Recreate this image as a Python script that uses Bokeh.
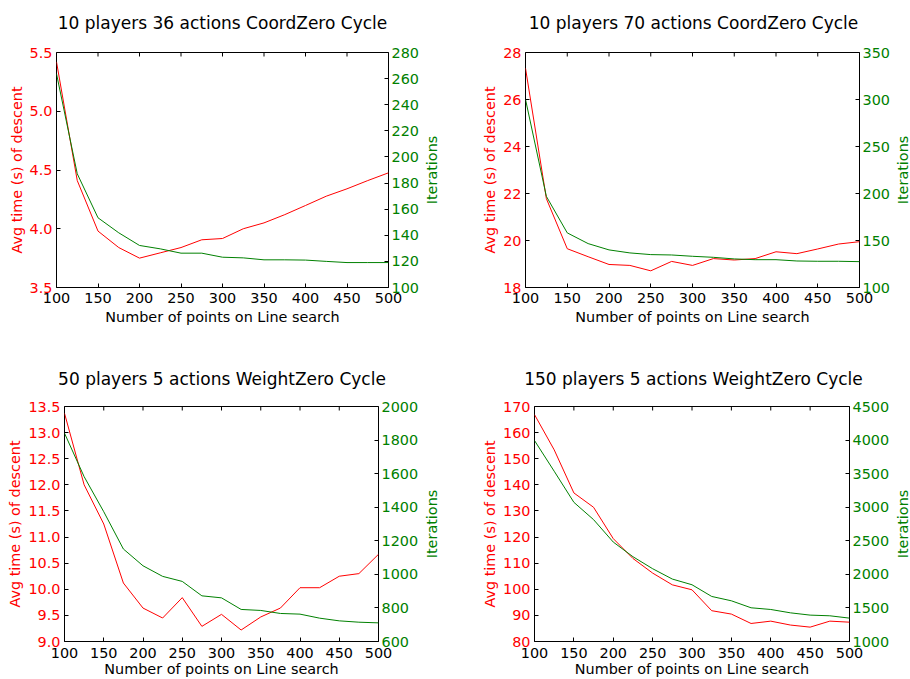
import math

from bokeh.plotting import figure
from bokeh.models import (Range1d, LinearAxis, FixedTicker, PrintfTickFormatter,
                          Title)
from bokeh.layouts import row, column
from bokeh.embed import file_html
from bokeh.resources import INLINE

# Number of points used by the line search (shared x values)
line_points = [100, 125, 150, 175, 200, 225, 250, 275, 300,
               325, 350, 375, 400, 425, 450, 475, 500]
x_ticks = [100, 150, 200, 250, 300, 350, 400, 450, 500]

# 10 players, 36 actions, CoordZero cycle
time_10p36a = [5.42, 4.41, 3.98, 3.84, 3.75, 3.795, 3.84, 3.906, 3.917,
               4.0, 4.05, 4.12, 4.198, 4.277, 4.34, 4.41, 4.476]
iters_10p36a = [263.7, 187.1, 153.4, 141.9, 132.2, 129.6, 126.3, 126.3, 123.2,
                122.7, 121.2, 121.2, 121.0, 120.0, 119.1, 119.1, 119.1]

# 10 players, 70 actions, CoordZero cycle
time_10p70a = [27.33, 21.78, 19.65, 19.31, 18.98, 18.94, 18.71, 19.11, 18.94,
               19.23, 19.17, 19.23, 19.52, 19.44, 19.64, 19.85, 19.95]
iters_10p70a = [300.1, 196.9, 158.1, 146.7, 140.0, 136.8, 135.0, 134.6, 133.2,
                132.1, 130.4, 129.6, 129.6, 128.2, 127.9, 127.9, 127.5]

# 50 players, 5 actions, WeightZero cycle
time_50p5a = [13.37, 12.0, 11.25, 10.12, 9.64, 9.45, 9.84, 9.29, 9.52,
              9.22, 9.47, 9.64, 10.03, 10.03, 10.25, 10.30, 10.67]
iters_50p5a = [1841, 1582, 1373, 1151, 1051, 988, 958, 872, 860,
               791, 785, 767, 763, 739, 723, 715, 711]

# 150 players, 5 actions, WeightZero cycle
time_150p5a = [166.9, 153.4, 136.9, 131.4, 119.4, 111.8, 106.2, 101.7, 99.8,
               91.8, 90.5, 86.9, 87.8, 86.3, 85.5, 87.8, 87.4]
iters_150p5a = [3993, 3536, 3073, 2815, 2481, 2263, 2084, 1930, 1845,
                1671, 1606, 1502, 1477, 1427, 1393, 1383, 1348]

# Axis tick values
time_ticks_1 = [3.5, 4.0, 4.5, 5.0, 5.5]
iter_ticks_1 = [100, 120, 140, 160, 180, 200, 220, 240, 260, 280]
time_ticks_2 = [18, 20, 22, 24, 26, 28]
iter_ticks_2 = [100, 150, 200, 250, 300, 350]
time_ticks_3 = [9.0, 9.5, 10.0, 10.5, 11.0, 11.5, 12.0, 12.5, 13.0, 13.5]
iter_ticks_3 = [600, 800, 1000, 1200, 1400, 1600, 1800, 2000]
time_ticks_4 = [80, 90, 100, 110, 120, 130, 140, 150, 160, 170]
iter_ticks_4 = [1000, 1500, 2000, 2500, 3000, 3500, 4000, 4500]

RED = "#ff0000"
GREEN = "#008000"
FONT = "DejaVu Sans"
TEXT_SIZE = "14.4px"
PAD_TOP = 8  # room above each frame for the half of the top tick label


def style_axis(ax, color, tick_standoff):
    ax.axis_line_color = None
    ax.major_tick_in = 4
    ax.major_tick_out = 0
    ax.major_tick_line_color = "black"
    ax.minor_tick_line_color = None
    ax.major_label_text_color = color
    ax.major_label_text_font = FONT
    ax.major_label_text_font_size = TEXT_SIZE
    ax.major_label_standoff = tick_standoff


def style_label(ax, text, color, standoff):
    ax.axis_label = text
    ax.axis_label_text_color = color
    ax.axis_label_text_font = FONT
    ax.axis_label_text_font_size = TEXT_SIZE
    ax.axis_label_text_font_style = "normal"
    ax.axis_label_standoff = standoff


def blank(fig):
    fig.outline_line_color = None
    fig.background_fill_color = "white"
    fig.border_fill_color = "white"
    fig.xgrid.visible = False
    fig.ygrid.visible = False


def panel(t, it, t_lim, t_ticks, t_fmt, it_lim, it_ticks,
          borders, width, height, x_standoffs):
    left, right, top, bottom = borders
    p = figure(width=width, height=height, output_backend="svg",
               toolbar_location=None, title=None,
               x_range=Range1d(100, 500), y_range=Range1d(*t_lim),
               min_border_left=left, min_border_right=right,
               min_border_top=top, min_border_bottom=bottom)
    p.extra_y_ranges = {"it": Range1d(*it_lim)}

    p.xgrid.visible = False
    p.ygrid.visible = False
    p.outline_line_color = "black"
    p.outline_line_width = 1
    p.background_fill_color = "white"
    p.border_fill_color = "white"

    xa = p.below[0]
    xa.ticker = FixedTicker(ticks=x_ticks)
    style_axis(xa, "black", x_standoffs[0])
    style_label(xa, "Number of points on Line search", "black", x_standoffs[1])

    ya = p.left[0]
    ya.ticker = FixedTicker(ticks=t_ticks)
    ya.formatter = PrintfTickFormatter(format=t_fmt)
    style_axis(ya, RED, 4)
    style_label(ya, "Avg time (s) of descent", RED, 2)

    ra = LinearAxis(y_range_name="it", ticker=FixedTicker(ticks=it_ticks),
                    formatter=PrintfTickFormatter(format="%d"))
    style_axis(ra, GREEN, 3)
    p.add_layout(ra, "right")

    # x tick marks pointing down from the top edge of the frame
    p.ray(x=x_ticks, y=[t_lim[1]] * len(x_ticks), length=4,
          length_units="screen", angle=-math.pi / 2,
          line_color="black", line_width=1)

    p.line(line_points, t, line_color=RED, line_width=1)
    p.line(line_points, it, line_color=GREEN, line_width=1, y_range_name="it")
    return p


def title_strip(text, width, height, left, right, top):
    # strip holding a panel title, centred over the panel's frame
    s = figure(width=width, height=height, output_backend="svg",
               toolbar_location=None, title=text,
               x_axis_location=None, y_axis_location=None,
               x_range=Range1d(0, 1), y_range=Range1d(0, 1),
               min_border_left=left, min_border_right=right,
               min_border_top=top, min_border_bottom=0)
    blank(s)
    s.title.align = "center"
    s.title.standoff = 0
    s.title.text_font = FONT
    s.title.text_font_size = "17px"
    s.title.text_font_style = "normal"
    s.title.text_color = "black"
    return s


def iterations_strip(width, height, bottom):
    # narrow figure carrying the right-hand "Iterations" title, read bottom-up
    g = figure(width=width, height=height, output_backend="svg",
               toolbar_location=None, title=None,
               x_axis_location=None, y_axis_location=None,
               x_range=Range1d(0, 1), y_range=Range1d(0, 1),
               min_border_left=0, min_border_right=0,
               min_border_top=PAD_TOP, min_border_bottom=bottom)
    blank(g)
    g.add_layout(Title(text="Iterations", align="center", standoff=0,
                       text_color=GREEN, text_font=FONT,
                       text_font_size=TEXT_SIZE, text_font_style="normal"),
                 "left")
    return g


s1 = title_strip("10 players 36 actions CoordZero Cycle", 439, 44, 56, 51, 32)
s2 = title_strip("10 players 70 actions CoordZero Cycle", 471, 44, 86, 49, 32)
f1 = panel(time_10p36a, iters_10p36a,
           (3.5, 5.5), time_ticks_1, "%.1f", (100, 280), iter_ticks_1,
           (56, 33, PAD_TOP, 53), 421, 296, (5, 3))
g1 = iterations_strip(18, 296, 53)
f2 = panel(time_10p70a, iters_10p70a,
           (18, 28), time_ticks_2, "%d", (100, 350), iter_ticks_2,
           (86, 31, PAD_TOP, 53), 453, 296, (5, 3))
g2 = iterations_strip(18, 296, 53)

s3 = title_strip("50 players 5 actions WeightZero Cycle", 439, 58, 64, 60, 48)
s4 = title_strip("150 players 5 actions WeightZero Cycle", 471, 58, 95, 58, 48)
f3 = panel(time_50p5a, iters_50p5a,
           (9.0, 13.5), time_ticks_3, "%.1f", (600, 2000), iter_ticks_3,
           (64, 42, PAD_TOP, 38), 421, 281, (6, 0))
g3 = iterations_strip(18, 281, 38)
f4 = panel(time_150p5a, iters_150p5a,
           (80, 170), time_ticks_4, "%d", (1000, 4500), iter_ticks_4,
           (95, 40, PAD_TOP, 38), 453, 281, (6, 0))
g4 = iterations_strip(18, 281, 38)

layout = column(row(s1, s2), row(f1, g1, f2, g2),
                row(s3, s4), row(f3, g3, f4, g4))

with open("out.html", "w") as fh:
    fh.write(file_html(layout, INLINE))
